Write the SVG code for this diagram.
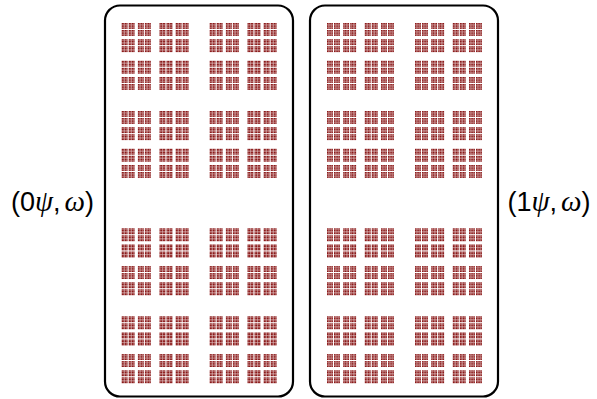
<svg xmlns="http://www.w3.org/2000/svg" xmlns:xlink="http://www.w3.org/1999/xlink" width="597" height="399" viewBox="0 0 597 399">
<style>
.box{fill:none;stroke:#000;stroke-width:2.2}
.lbl{font-family:"Liberation Sans",Arial,sans-serif;font-size:27px;fill:#000}
.gr{font-family:"Liberation Serif","DejaVu Serif",serif;font-style:italic;font-size:29px}
.dust{fill:#8b1a1a}
</style>
<defs>
<rect id="t" width="1.35" height="1.35"/>
<g id="a"><use href="#t"/><use href="#t" x="1.45"/><use href="#t" y="1.45"/><use href="#t" x="1.45" y="1.45"/></g>
<g id="b"><use href="#a"/><use href="#a" x="3.1"/><use href="#a" y="3.1"/><use href="#a" x="3.1" y="3.1"/></g>
<g id="c"><use href="#b"/><use href="#b" x="7"/><use href="#b" y="7"/><use href="#b" x="7" y="7"/></g>
<g id="d"><use href="#c"/><use href="#c" x="16.2"/><use href="#c" y="16.2"/><use href="#c" x="16.2" y="16.2"/></g>
<g id="e"><use href="#d"/><use href="#d" x="37.8"/><use href="#d" y="37.8"/><use href="#d" x="37.8" y="37.8"/></g>
<g id="f"><use href="#e"/><use href="#e" x="88"/><use href="#e" y="88"/><use href="#e" x="88" y="88"/></g>
</defs>
<g id="box0">
<rect class="box" x="105" y="5.5" width="188" height="391" rx="15"/>
<g class="dust"><use href="#f" x="121.7" y="23"/><use href="#f" x="121.7" y="228.3"/></g>
</g>
<g id="box1">
<rect class="box" x="310" y="5.5" width="188" height="391" rx="15"/>
<g class="dust"><use href="#f" x="327" y="23"/><use href="#f" x="327" y="228.3"/></g>
</g>
<g id="label0">
<text class="lbl" x="52.5" y="211" text-anchor="middle">(0<tspan class="gr">ψ</tspan>,<tspan dx="4" class="gr">ω</tspan>)</text>
</g>
<g id="label1">
<text class="lbl" x="549" y="211" text-anchor="middle">(1<tspan class="gr">ψ</tspan>,<tspan dx="4" class="gr">ω</tspan>)</text>
</g>
<g id="connectors"/>
</svg>
